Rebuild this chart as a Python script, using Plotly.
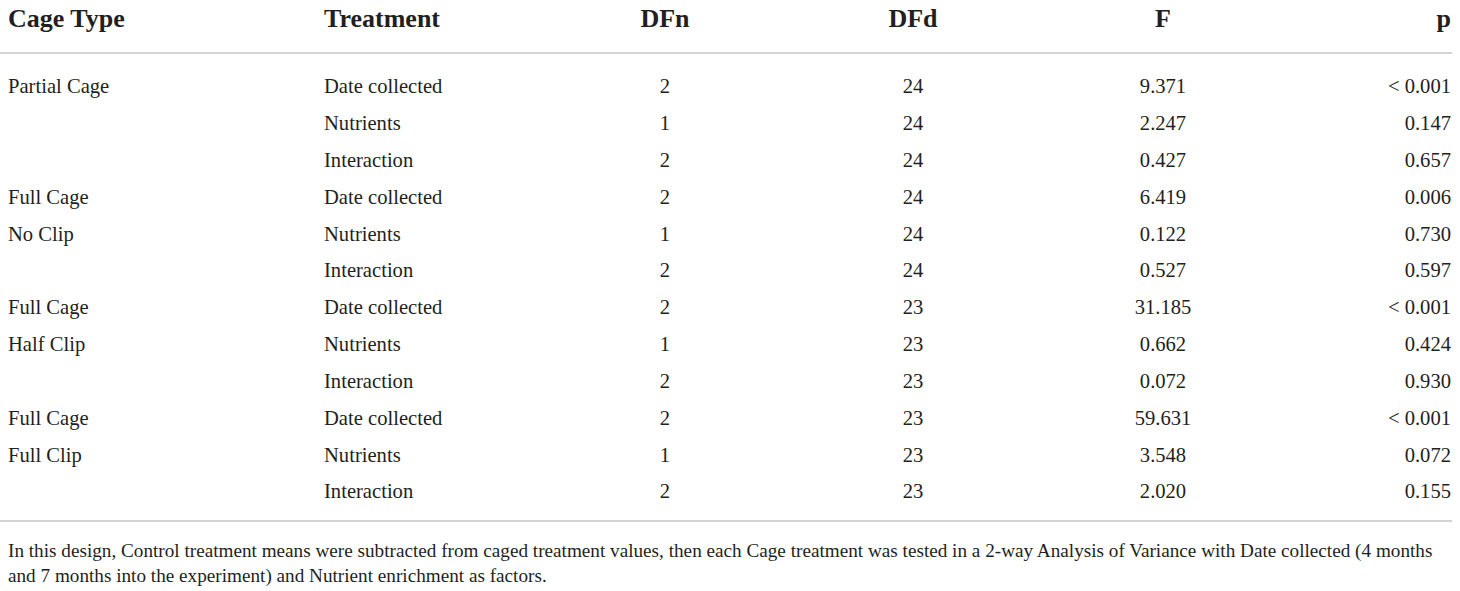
import plotly.graph_objects as go

# column headers
headers = ["Cage Type", "Treatment", "DFn", "DFd", "F", "p"]

# table rows
cage_type = ["Partial Cage", "", "", "Full Cage", "No Clip", "", "Full Cage", "Half Clip", "",
             "Full Cage", "Full Clip", ""]
treatment = ["Date collected", "Nutrients", "Interaction", "Date collected", "Nutrients", "Interaction",
             "Date collected", "Nutrients", "Interaction", "Date collected", "Nutrients", "Interaction"]
dfn = [2, 1, 2, 2, 1, 2, 2, 1, 2, 2, 1, 2]
dfd = [24, 24, 24, 24, 24, 24, 23, 23, 23, 23, 23, 23]
f_vals = ["9.371", "2.247", "0.427", "6.419", "0.122", "0.527", "31.185", "0.662", "0.072",
          "59.631", "3.548", "2.020"]
p_vals = ["< 0.001", "0.147", "0.657", "0.006", "0.730", "0.597", "< 0.001", "0.424", "0.930",
          "< 0.001", "0.072", "0.155"]

footnote = ("In this design, Control treatment means were subtracted from caged treatment values, "
            "then each Cage treatment was tested in a 2-way Analysis of Variance with Date collected (4 months<br>"
            "and 7 months into the experiment) and Nutrient enrichment as factors.")

W, H = 1460, 591
font = "Liberation Serif"
ink = "#231f20"
rule = "#c4c4c4"

# axes run in pixel units so the table can be laid out like the page
row_y = [88 + 36.85 * i for i in range(len(treatment))]
head_y = 20
cols = [
    (8, "middle right", cage_type),
    (324, "middle right", treatment),
    (665, "middle center", [str(v) for v in dfn]),
    (913, "middle center", [str(v) for v in dfd]),
    (1163, "middle center", f_vals),
    (1451, "middle left", p_vals),
]

fig = go.Figure()
for (x, pos, vals), head in zip(cols, headers):
    fig.add_trace(go.Scatter(
        x=[x] * len(vals), y=row_y, text=vals, mode="text", cliponaxis=False,
        textposition=pos, textfont=dict(family=font, size=20.6, color=ink),
        hoverinfo="skip", showlegend=False))
    fig.add_trace(go.Scatter(
        x=[x], y=[head_y], text=["<b>" + head + "</b>"], mode="text", cliponaxis=False,
        textposition=pos, textfont=dict(family=font, size=26, color=ink),
        hoverinfo="skip", showlegend=False))

for y in [53, 521]:
    fig.add_shape(type="line", x0=0, x1=1452, y0=y, y1=y, xref="x", yref="y",
                  line=dict(color=rule, width=1.5))

fig.add_annotation(text=footnote, x=6, y=563, xref="x", yref="y", xanchor="left", yanchor="middle",
                   align="left", showarrow=False,
                   font=dict(family=font, size=19.2, color=ink))

fig.update_xaxes(range=[0, W], visible=False)
fig.update_yaxes(range=[H, 0], visible=False)
fig.update_layout(width=W, height=H, margin=dict(l=0, r=0, t=0, b=0),
                  plot_bgcolor="white", paper_bgcolor="white")

# drop the default 8px body margin so the figure fills the window
fig.write_html("out.html", config={"displayModeBar": False},
               post_script="document.body.style.margin = '0';")
